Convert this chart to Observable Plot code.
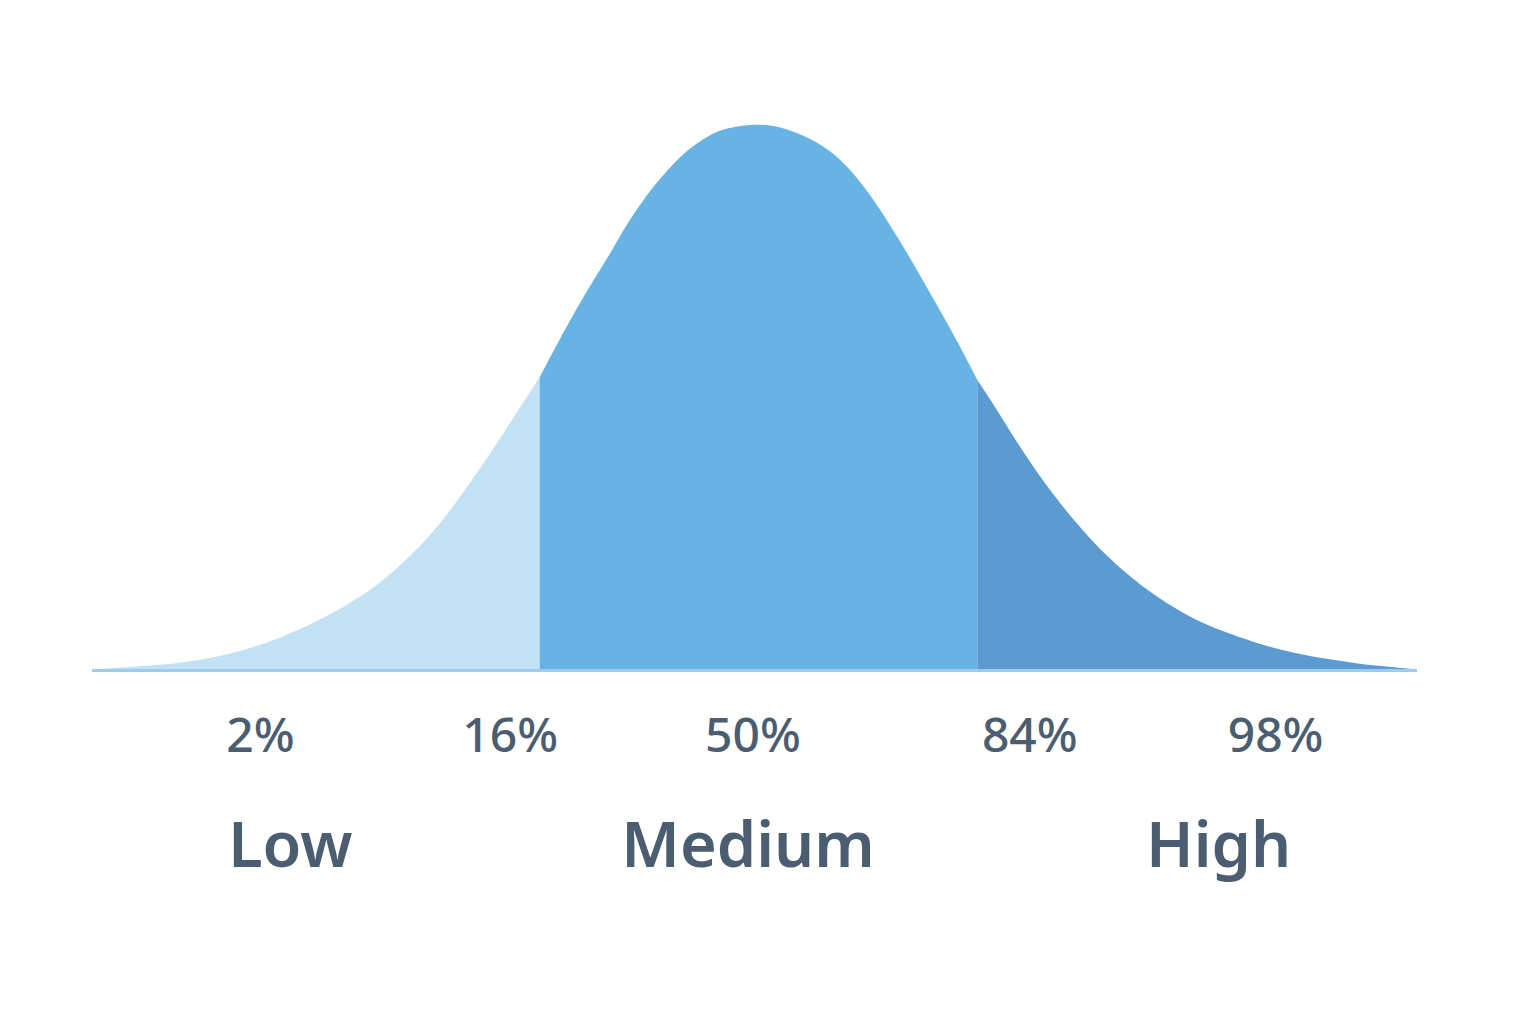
<!DOCTYPE html>
<html>
<head>
<meta charset="utf-8">
<script src="https://cdn.jsdelivr.net/npm/d3@7"></script>
<script src="https://cdn.jsdelivr.net/npm/@observablehq/plot@0.6"></script>
<style>
  html, body { margin: 0; padding: 0; background: #ffffff; overflow: hidden; }
</style>
</head>
<body>
<div id="chart"></div>
<script>
// Standard scores (x) and curve heights
const zScores = [-3.33, -3.06, -2.89, -2.73, -2.56, -2.39, -2.23, -2.06, -1.89, -1.73, -1.59, -1.43, -1.26, -1.09,
  -0.93, -0.83, -0.74, -0.66, -0.58, -0.49, -0.41, -0.33, -0.24, -0.16, 0,
  0.15, 0.31, 0.41, 0.51, 0.61, 0.71, 0.81, 0.91, 1.01, 1.10,
  1.19, 1.29, 1.39, 1.49, 1.59, 1.71, 1.88, 2.05, 2.21, 2.38, 2.51, 2.68, 2.85, 3.01, 3.18, 3.30];
const heights = [0.5, 4, 7, 12, 20, 32, 46, 64, 86, 115, 145, 189, 240, 293,
  353, 387, 415, 444, 468, 491, 509, 523, 535, 542, 547,
  542, 527, 512, 490, 462, 430, 396, 361, 325, 290,
  263, 230, 200, 173, 148, 121, 90, 66, 48, 35, 26, 17, 11, 6, 3, 0.5];

// Band boundaries and names
const bandNames = ["Low", "Medium", "High"];
const bandCuts = [-3.33, -1.09, 1.10, 3.30];

// Percentile tick labels and their positions (in standard-score units)
const pctLabels = ["2%", "16%", "50%", "84%", "98%"];
const pctAt = [-2.49, -1.24, -0.025, 1.36, 2.59];

// Category labels
const catLabels = ["Low", "Medium", "High"];
const catAt = [-2.34, -0.05, 2.305];

const rows = [];
bandNames.forEach((band, i) => {
  zScores.forEach((z, j) => {
    if (z >= bandCuts[i] - 1e-9 && z <= bandCuts[i + 1] + 1e-9) rows.push({ band, z, h: heights[j] });
  });
});
const pctRows = pctLabels.map((t, i) => ({ t, z: pctAt[i] }));
const catRows = catLabels.map((t, i) => ({ t, z: catAt[i] }));

const chart = Plot.plot({
  width: 1536,
  height: 1024,
  marginLeft: 92,
  marginRight: 119,
  marginTop: 123,
  marginBottom: 354,
  x: { domain: [-3.33, 3.30], axis: null },
  y: { domain: [0, 547], axis: null },
  color: { domain: bandNames, range: ["#c3e1f4", "#67b3e4", "#5b9bd1"] },
  style: { fontFamily: "'Noto Sans', 'Open Sans', sans-serif", background: "#ffffff" },
  marks: [
    Plot.areaY(rows, { x: "z", y1: 0, y2: "h", fill: "band", z: "band", curve: "basis" }),
    Plot.ruleY([0], { stroke: "#9fcbec", strokeWidth: 3 }),
    Plot.text(pctRows, { x: "z", y: 0, text: "t", dy: 66, fontSize: 48, fontWeight: 500, fill: "#4b5d70" }),
    Plot.text(catRows, { x: "z", y: 0, text: "t", dy: 176, fontSize: 63, fontWeight: 600, fill: "#4b5d70" })
  ]
});
document.getElementById("chart").append(chart);
</script>
</body>
</html>
